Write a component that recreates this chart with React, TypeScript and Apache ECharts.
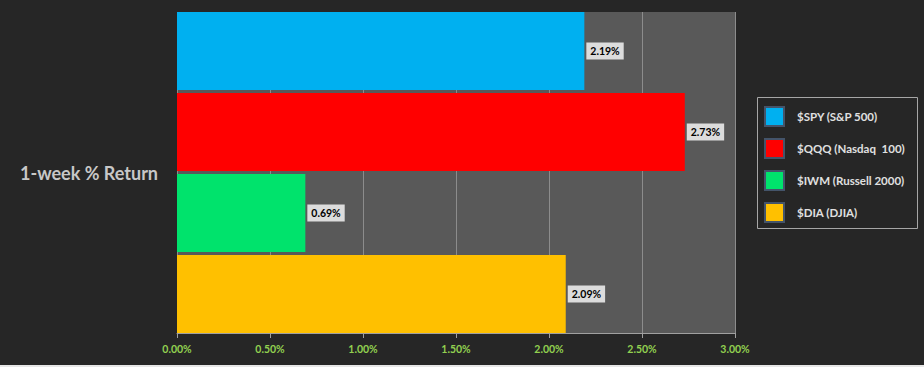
import React, { useEffect, useRef } from "react";
import * as echarts from "echarts";

const categories = ["1-week % Return"];
const seriesNames = ["$SPY (S&P 500)", "$QQQ (Nasdaq  100)", "$IWM (Russell 2000)", "$DIA (DJIA)"];
const seriesValues = [2.19, 2.73, 0.69, 2.09];
const seriesColors = ["#00b0f0", "#ff0000", "#00e36c", "#ffc000"];
const axisMin = 0;
const axisMax = 3;
const axisInterval = 0.5;

export default function App() {
  const ref = useRef<HTMLDivElement>(null);
  useEffect(() => {
    if (!ref.current) return;
    const chart = echarts.init(ref.current, null, { renderer: "svg" });
    const font = "Lato, 'Noto Sans', sans-serif";
    chart.setOption({
      animation: false,
      backgroundColor: "#262626",
      textStyle: { fontFamily: font },
      grid: {
        left: 177,
        right: 189,
        top: 12,
        bottom: 34,
        show: true,
        backgroundColor: "#595959",
        borderWidth: 0,
      },
      legend: {
        orient: "vertical",
        left: 764,
        top: 106,
        itemWidth: 19,
        itemHeight: 19,
        itemGap: 11,
        padding: 0,
        icon: "rect",
        textStyle: {
          color: "#e0e0e0",
          fontSize: 11.5,
          fontWeight: "bold",
          fontFamily: font,
          padding: [0, 0, 0, 8],
          lineHeight: 19,
        },
        itemStyle: { borderColor: "#44546a", borderWidth: 2 },
        data: seriesNames,
      },
      graphic: [
        {
          type: "rect",
          shape: { x: 757.5, y: 97.5, width: 160, height: 131 },
          style: { fill: "none", stroke: "#a6a6a6", lineWidth: 1 },
        },
        {
          type: "rect",
          shape: { x: 0, y: 365, width: 924, height: 2 },
          style: { fill: "#e6e6e6" },
        },
      ],
      xAxis: {
        type: "value",
        min: axisMin,
        max: axisMax,
        interval: axisInterval,
        axisLine: { show: true, lineStyle: { color: "#a0a0a0", width: 1 } },
        axisTick: { show: true, length: 5, lineStyle: { color: "#a0a0a0" } },
        splitLine: { show: true, lineStyle: { color: "#8c8c8c", width: 1 } },
        axisLabel: {
          color: "#92d050",
          fontSize: 10.5,
          fontWeight: "bold",
          margin: 10,
          formatter: (v: number) => v.toFixed(2) + "%",
        },
      },
      yAxis: {
        type: "category",
        data: categories,
        inverse: true,
        axisLine: { show: false },
        axisTick: { show: false },
        axisLabel: { color: "#c8c8c8", fontSize: 18, fontWeight: "bold", margin: 19 },
      },
      series: seriesNames.map((name, i) => ({
        type: "bar",
        name,
        data: [seriesValues[i]],
        barCategoryGap: "0%",
        barGap: "4%",
        itemStyle: { color: seriesColors[i] },
        label: {
          show: true,
          position: "right",
          distance: 2,
          formatter: (p: any) => p.value.toFixed(2) + "%",
          color: "#000",
          fontSize: 10.5,
          fontWeight: "bold",
          backgroundColor: "#dcdcdc",
          padding: [3, 4, 3, 4],
        },
      })),
    });
    return () => chart.dispose();
  }, []);
  return <div ref={ref} style={{ width: 924, height: 367, position: "absolute", left: 0, top: 0 }} />;
}
